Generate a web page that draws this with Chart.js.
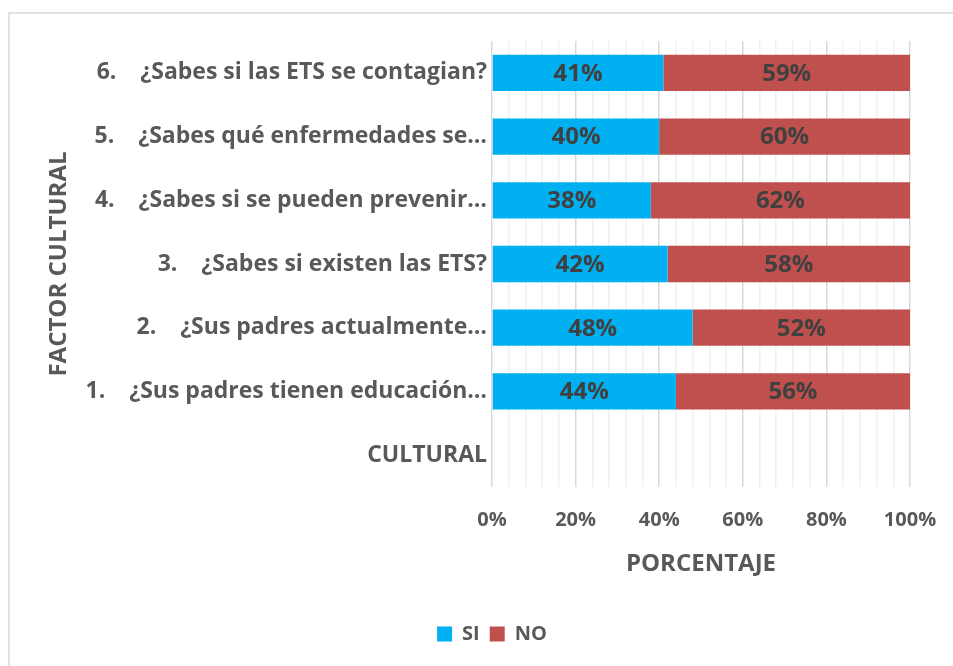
<!DOCTYPE html>
<html lang="es">
  <head>
    <meta charset="UTF-8" />
    <title>Factor cultural</title>
    <style>
      body {
        margin: 0;
        background: #fff;
        overflow: hidden;
      }
      .frame {
        position: absolute;
        left: 8px;
        top: 12px;
        width: 2000px;
        height: 2000px;
        border-left: 2px solid #e2e2e2;
        border-top: 2px solid #e2e2e2;
      }
      #chart {
        position: absolute;
        left: 0;
        top: 0;
      }
    </style>
    <script src="https://cdn.jsdelivr.net/npm/chart.js"></script>
  </head>
  <body>
    <div class="frame"></div>
    <canvas id="chart" width="953" height="666"></canvas>

    <script>
      // categories, top to bottom
      const labels = [
        "6.    ¿Sabes si las ETS se contagian?",
        "5.    ¿Sabes qué enfermedades se…",
        "4.    ¿Sabes si se pueden prevenir…",
        "3.    ¿Sabes si existen las ETS?",
        "2.    ¿Sus padres actualmente…",
        "1.    ¿Sus padres tienen educación…",
        "CULTURAL",
      ];
      const siValues = [41, 40, 38, 42, 48, 44, null];
      const noValues = [59, 60, 62, 58, 52, 56, null];

      const FONT = "'Open Sans', sans-serif";

      // percentage text in the middle of each segment
      const barLabels = {
        id: "barLabels",
        afterDatasetsDraw(chart) {
          const ctx = chart.ctx;
          ctx.save();
          ctx.font = "bold 24px " + FONT;
          ctx.fillStyle = "#404040";
          ctx.textAlign = "center";
          ctx.textBaseline = "middle";
          chart.data.datasets.forEach((ds, i) => {
            chart.getDatasetMeta(i).data.forEach((bar, j) => {
              const v = ds.data[j];
              if (v == null) return;
              const c = bar.getCenterPoint();
              ctx.fillText(v + "%", c.x, c.y + 1);
            });
          });
          ctx.restore();
        },
      };

      new Chart(document.getElementById("chart"), {
        type: "bar",
        data: {
          labels: labels,
          datasets: [
            {
              label: "SI",
              data: siValues,
              backgroundColor: "#00B0F0",
              barPercentage: 0.57,
              categoryPercentage: 1,
            },
            {
              label: "NO",
              data: noValues,
              backgroundColor: "#C0504D",
              barPercentage: 0.57,
              categoryPercentage: 1,
            },
          ],
        },
        options: {
          responsive: false,
          animation: false,
          indexAxis: "y",
          layout: {
            padding: { top: 41, right: 43, left: 74, bottom: 12 },
          },
          scales: {
            x: {
              stacked: true,
              min: 0,
              max: 100,
              border: { display: false },
              grid: {
                drawTicks: false,
                lineWidth: 1.5,
                color: (c) =>
                  c.tick && c.tick.value % 20 === 0 ? "#d9d9d9" : "#f0f0f0",
              },
              ticks: {
                stepSize: 4,
                autoSkip: false,
                maxRotation: 0,
                padding: 21,
                color: "#595959",
                font: { family: FONT, size: 20, weight: "bold" },
                callback: (v) => (v % 20 === 0 ? v + "%" : ""),
              },
              title: {
                display: true,
                text: "PORCENTAJE",
                color: "#595959",
                font: { family: FONT, size: 24, weight: "bold" },
                padding: { top: 0, bottom: 35 },
              },
              afterFit: (scale) => {
                scale.height = 127;
                scale.paddingLeft = 0;
                scale.paddingRight = 0;
              },
            },
            y: {
              stacked: true,
              border: { display: false },
              grid: { display: false, drawTicks: false },
              ticks: {
                padding: 5,
                color: "#595959",
                font: { family: FONT, size: 23, weight: "bold" },
              },
              title: {
                display: true,
                text: "FACTOR CULTURAL",
                color: "#595959",
                font: { family: FONT, size: 24, weight: "bold" },
                padding: { top: -29, bottom: 0 },
              },
              afterFit: (scale) => {
                scale.width = 418;
              },
            },
          },
          plugins: {
            legend: {
              position: "bottom",
              labels: {
                boxWidth: 15,
                boxHeight: 15,
                color: "#595959",
                font: { family: FONT, size: 20, weight: "bold" },
                padding: 10,
              },
            },
            tooltip: { enabled: false },
          },
        },
        plugins: [barLabels],
      });
    </script>
  </body>
</html>
